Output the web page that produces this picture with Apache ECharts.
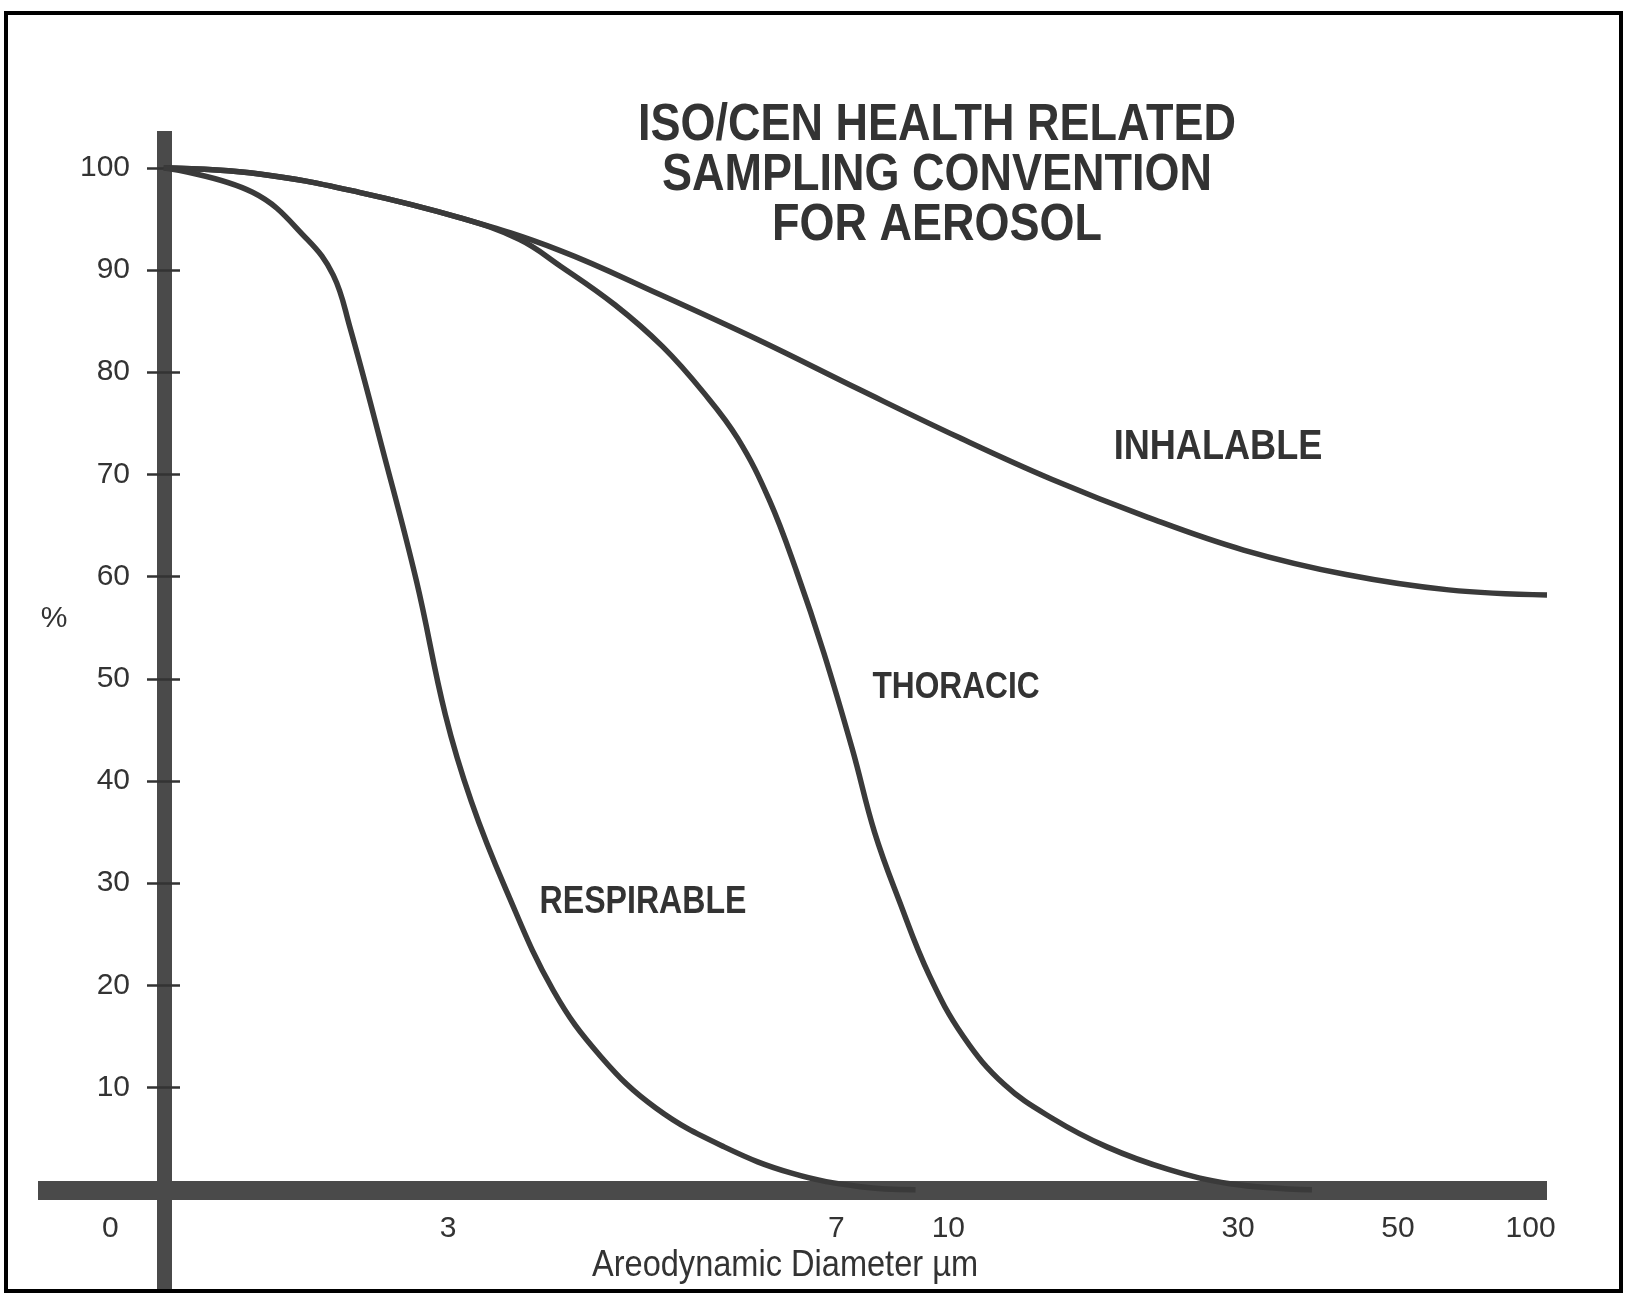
<!DOCTYPE html>
<html>
<head>
<meta charset="utf-8">
<script src="https://cdn.jsdelivr.net/npm/echarts@6/dist/echarts.min.js"></script>
<style>
  html, body { margin: 0; padding: 0; background: #fff; }
  #chart { width: 1625px; height: 1294px; }
</style>
</head>
<body>
<div id="chart"></div>
<script>
// x = position along the hand drawn diameter axis (0 = y axis, 100 = the "100" mark)
const xTickPos = [-3.9, 20.8, 49.2, 57.4, 78.6, 90.3, 100];
const xTickLabels = ['0', '3', '7', '10', '30', '50', '100'];
const yTicks = [10, 20, 30, 40, 50, 60, 70, 80, 90, 100];

const inhalableX = [0, 7.0, 14.3, 21.7, 29.0, 36.3, 43.6, 50.9, 58.2, 65.0, 72.0, 79.0, 86.5, 94.0, 101.2];
const inhalableY = [100, 99.4, 97.6, 95.1, 91.9, 87.6, 83.1, 78.3, 73.6, 69.5, 65.8, 62.6, 60.2, 58.7, 58.2];

const thoracicX = [0, 7.0, 14.3, 21.7, 26.0, 29.0, 33.0, 36.5, 39.5, 42.0, 44.3, 46.3, 48.3, 50.4, 52.0, 53.8, 56.0, 58.5, 61.5, 65.0, 69.0, 73.5, 78.0, 84.0];
const thoracicY = [100, 99.4, 97.6, 95.1, 93.0, 90.4, 86.6, 82.5, 78.0, 73.5, 67.5, 60.5, 52.5, 43.0, 35.0, 28.3, 21.0, 15.0, 10.3, 7.0, 4.2, 2.0, 0.6, 0];

const respirableX = [0, 6.5, 10.5, 12.4, 13.6, 16.0, 18.5, 20.6, 22.5, 25.0, 28.5, 32.0, 36.0, 41.0, 46.0, 51.0, 55.0];
const respirableY = [100, 97.6, 93.0, 89.5, 84.5, 72.5, 59.5, 46.5, 38.0, 29.5, 19.5, 13.0, 8.0, 4.2, 1.6, 0.3, 0];

const FONT = "'Liberation Sans', Arial, sans-serif";
const INK = '#333333';
const BAR = '#4a4a4a';

function zip(xs, ys) {
  return xs.map((x, i) => [x, ys[i]]);
}

function curve(name, xs, ys) {
  return {
    name: name,
    type: 'line',
    data: zip(xs, ys),
    showSymbol: false,
    smooth: 0.4,
    z: 3,
    lineStyle: { color: '#3a3a3a', width: 5.5 }
  };
}

// condensed look of the original lettering: squeeze the text sideways
function label(text, x, y, size, squeeze, bold) {
  return {
    type: 'text', x: x, y: y, scaleX: squeeze,
    style: {
      text: text, align: 'center', verticalAlign: 'middle',
      fontFamily: FONT, fontWeight: bold ? 'bold' : 'normal',
      fontSize: size, lineHeight: 50, fill: INK
    }
  };
}

const chart = echarts.init(document.getElementById('chart'));

const option = {
  animation: false,
  backgroundColor: '#fff',
  grid: { left: 38, right: 78, top: 131, bottom: 2, containLabel: false, outerBoundsMode: 'none' },
  xAxis: {
    type: 'value',
    position: 'bottom',
    min: -9.2,
    max: 101.2,
    offset: -102,   // sits on y = 0, the y axis runs on below it
    axisLine: { onZero: false, lineStyle: { color: BAR, width: 19, cap: 'butt' } },
    axisTick: { show: false },
    splitLine: { show: false },
    axisLabel: {
      customValues: xTickPos,
      formatter: function (v) {
        const i = xTickPos.findIndex(p => Math.abs(p - v) < 1e-6);
        return i < 0 ? '' : xTickLabels[i];
      },
      margin: 24,
      fontFamily: FONT,
      fontSize: 30,
      color: INK
    }
  },
  yAxis: [{
    type: 'value',
    position: 'left',
    min: -10,
    max: 103.6,
    offset: -126,
    axisLine: { show: true, onZero: false, lineStyle: { color: BAR, width: 15, cap: 'butt' } },
    axisTick: { show: true, customValues: yTicks, length: 17, lineStyle: { color: INK, width: 2.5 } },
    axisLabel: { customValues: yTicks, margin: 34, fontFamily: FONT, fontSize: 30, color: INK },
    splitLine: { show: false }
  }, {
    // inner half of the ticks, they cross the axis bar
    type: 'value',
    position: 'left',
    min: -10,
    max: 103.6,
    offset: -126,
    axisLine: { show: false, onZero: false },
    axisTick: { show: true, inside: true, customValues: yTicks, length: 16, lineStyle: { color: INK, width: 2.5 } },
    axisLabel: { show: false },
    splitLine: { show: false }
  }],
  graphic: [
    { type: 'rect', shape: { x: 6, y: 13, width: 1615, height: 1278 }, style: { fill: 'none', stroke: '#000', lineWidth: 4 }, z: 10 },
    label('ISO/CEN HEALTH RELATED\nSAMPLING CONVENTION\nFOR AEROSOL', 937, 176, 52, 0.865, true),
    label('INHALABLE', 1218, 447, 42, 0.86, true),
    label('THORACIC', 956, 688, 37, 0.856, true),
    label('RESPIRABLE', 643, 903, 38, 0.845, true),
    label('%', 54, 619, 30, 1, false),
    label('Areodynamic Diameter µm', 785, 1266, 37, 0.88, false)
  ],
  series: [
    curve('INHALABLE', inhalableX, inhalableY),
    curve('THORACIC', thoracicX, thoracicY),
    curve('RESPIRABLE', respirableX, respirableY)
  ]
};

chart.setOption(option);
</script>
</body>
</html>
